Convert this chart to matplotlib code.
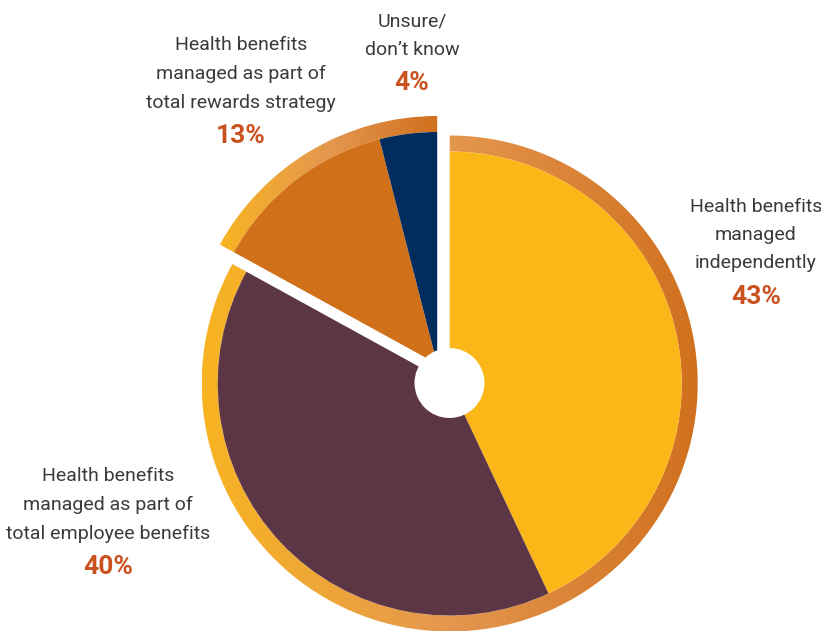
import numpy as np
import matplotlib
matplotlib.use("Agg")
import matplotlib.pyplot as plt
from matplotlib.patches import Wedge, Circle
from matplotlib.colors import LinearSegmentedColormap

# Survey shares (percent), clockwise from 12 o'clock
labels = [
    "Health benefits\nmanaged\nindependently",
    "Health benefits\nmanaged as part of\ntotal employee benefits",
    "Health benefits\nmanaged as part of\ntotal rewards strategy",
    "Unsure/\ndon\u2019t know",
]
shares = [43, 40, 13, 4]
slice_colors = ["#FBB718", "#5D3646", "#D07018", "#002D5E"]

plt.rcParams["font.family"] = ["Roboto", "DejaVu Sans"]

fig = plt.figure(figsize=(8.21, 6.33), dpi=100)
ax = fig.add_axes([0, 0, 1, 1])

cx, cy = 449.7, 249.5          # pie centre (px, y up)
r_pie, r_ring = 232, 248
shift = (-12.5, 19.5)          # pulled-out group (last two slices)
small_c = (cx + shift[0], cy + shift[1])

wedges, _ = ax.pie(shares, colors=slice_colors, startangle=90, counterclock=False,
                   radius=r_pie, center=(cx, cy), wedgeprops=dict(linewidth=0))
for w in wedges[2:]:
    w.set_center(small_c)

# orange gradient rims around each group
rim_cmap = LinearSegmentedColormap.from_list("rim", ["#F8B422", "#E4974F", "#D0701E"])
grad = np.linspace(0, 1, 256).reshape(1, -1)

split_deg = 90 + 360 * (shares[2] + shares[3]) / sum(shares)
main_rim = Wedge((cx, cy), r_ring, split_deg, 450, width=r_ring - r_pie,
                 facecolor="none", edgecolor="none")
small_rim = Wedge(small_c, r_ring, 90, split_deg, width=r_ring - r_pie,
                  facecolor="none", edgecolor="none")
ax.add_patch(main_rim)
ax.add_patch(small_rim)

im = ax.imshow(grad, cmap=rim_cmap, aspect="auto",
               extent=(cx - r_ring, cx + r_ring, cy - r_ring, cy + r_ring))
im.set_clip_path(main_rim)
x_left = small_c[0] + r_ring * np.cos(np.radians(split_deg))
im2 = ax.imshow(grad, cmap=rim_cmap, aspect="auto",
                extent=(x_left, small_c[0], small_c[1] - r_ring, small_c[1] + r_ring))
im2.set_clip_path(small_rim)

# centre hole
ax.add_patch(Circle((449.5, 250), 35, facecolor="white", edgecolor="none", zorder=5))

# labels: (x, y of text block centre, y of percent)
label_pos = [(756, 398, 336), (108, 128, 66), (241, 559, 497), (412, 597, 550)]
for lab, val, (x, y, yp) in zip(labels, shares, label_pos):
    ax.text(x, y, lab, ha="center", va="center", fontsize=14, color="#3A3A3A",
            linespacing=1.75)
    ax.text(x, yp, f"{val}%", ha="center", va="center", fontsize=19,
            fontweight="bold", color="#CA5220")

ax.set_xlim(0, 821)
ax.set_ylim(0, 633)
ax.axis("off")

fig.savefig("out.png", dpi=100)
